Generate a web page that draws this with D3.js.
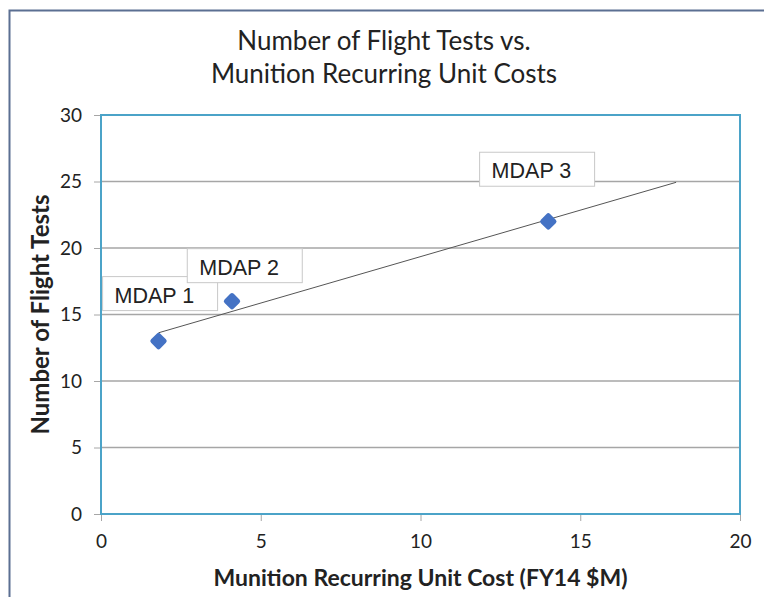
<!DOCTYPE html>
<html>
<head>
<meta charset="utf-8">
<script src="https://cdn.jsdelivr.net/npm/d3@7"></script>
<style>
  body { margin: 0; background: #fff; }
  text { font-family: Lato, "Open Sans", sans-serif; fill: #222; }
  .lbl { font-family: "Liberation Sans", Arial, sans-serif; font-size: 21.5px; }
</style>
</head>
<body>
<div id="chart"></div>
<script>
// data
const names = ["MDAP 1", "MDAP 2", "MDAP 3"];
const cost = [1.8, 4.1, 14];
const tests = [13, 16, 22];
const xTicks = [0, 5, 10, 15, 20];
const yTicks = [0, 5, 10, 15, 20, 25, 30];
// label box top-left in data units
const labelX = [0.05, 2.7, 11.85];
const labelY = [17.85, 19.95, 27.2];

const width = 764, height = 597;
const m = { left: 101, right: 24, top: 115, bottom: 83 };

const svg = d3.select("#chart").append("svg")
  .attr("width", width).attr("height", height);

// outer frame
svg.append("rect")
  .attr("x", 9.5).attr("y", 10.5)
  .attr("width", width + 10).attr("height", height + 10)
  .attr("fill", "none").attr("stroke", "#5b6f92").attr("stroke-width", 2);

const x = d3.scaleLinear().domain([0, 20]).range([m.left, width - m.right]);
const y = d3.scaleLinear().domain([0, 30]).range([height - m.bottom, m.top]);

// grid
svg.selectAll(".grid").data(yTicks.slice(1, -1)).enter()
  .append("line")
  .attr("x1", x(0)).attr("x2", x(20))
  .attr("y1", d => y(d)).attr("y2", d => y(d))
  .attr("stroke", "#a6a6a6").attr("stroke-width", 1.5);

// axes
const xAxis = svg.append("g")
  .attr("transform", `translate(0,${y(0)})`)
  .call(d3.axisBottom(x).tickValues(xTicks).tickSize(7).tickPadding(14));
const yAxis = svg.append("g")
  .attr("transform", `translate(${x(0)},0)`)
  .call(d3.axisLeft(y).tickValues(yTicks).tickSize(7).tickPadding(12));
[xAxis, yAxis].forEach(g => {
  g.select(".domain").remove();
  g.selectAll(".tick line").attr("stroke", "#a6a6a6");
  g.selectAll("text").style("font-size", "19px").attr("fill", "#222");
});

// plot border
svg.append("rect")
  .attr("x", x(0)).attr("y", y(30))
  .attr("width", x(20) - x(0)).attr("height", y(0) - y(30))
  .attr("fill", "none").attr("stroke", "#4ba3c8").attr("stroke-width", 2);

// linear trend, forecast 4 forward
const mx = d3.mean(cost), my = d3.mean(tests);
const slope = d3.sum(cost, (c, i) => (c - mx) * (tests[i] - my)) / d3.sum(cost, c => (c - mx) ** 2);
const icpt = my - slope * mx;
const tx = [d3.min(cost), d3.max(cost) + 4];
svg.append("line")
  .attr("x1", x(tx[0])).attr("y1", y(icpt + slope * tx[0]))
  .attr("x2", x(tx[1])).attr("y2", y(icpt + slope * tx[1]))
  .attr("stroke", "#555").attr("stroke-width", 1);

// markers
svg.selectAll(".pt").data(cost).enter()
  .append("rect")
  .attr("x", -6.5).attr("y", -6.5).attr("width", 13).attr("height", 13)
  .attr("rx", 2.5)
  .attr("fill", "#4472c4")
  .attr("transform", (d, i) => `translate(${x(d)},${y(tests[i])}) rotate(45)`);

// data labels
const lab = svg.selectAll(".lab").data(names).enter()
  .append("g")
  .attr("transform", (d, i) => `translate(${x(labelX[i])},${y(labelY[i])})`);
lab.append("rect")
  .attr("width", 115).attr("height", 34)
  .attr("fill", "#fff").attr("stroke", "#c8c8c8");
lab.append("text").attr("class", "lbl")
  .attr("x", 12).attr("y", 26)
  .text(d => d);

// titles
svg.append("text").attr("x", 384).attr("y", 50).attr("text-anchor", "middle")
  .style("font-size", "26px").text("Number of Flight Tests vs.");
svg.append("text").attr("x", 384).attr("y", 83).attr("text-anchor", "middle")
  .style("font-size", "26px").text("Munition Recurring Unit Costs");
svg.append("text").attr("x", x(10)).attr("y", 586).attr("text-anchor", "middle")
  .style("font-size", "23px").style("font-weight", "bold")
  .text("Munition Recurring Unit Cost (FY14 $M)");
svg.append("text")
  .attr("transform", `translate(49,${y(15)}) rotate(-90)`)
  .attr("text-anchor", "middle")
  .style("font-size", "24px").style("font-weight", "bold")
  .text("Number of Flight Tests");
</script>
</body>
</html>
